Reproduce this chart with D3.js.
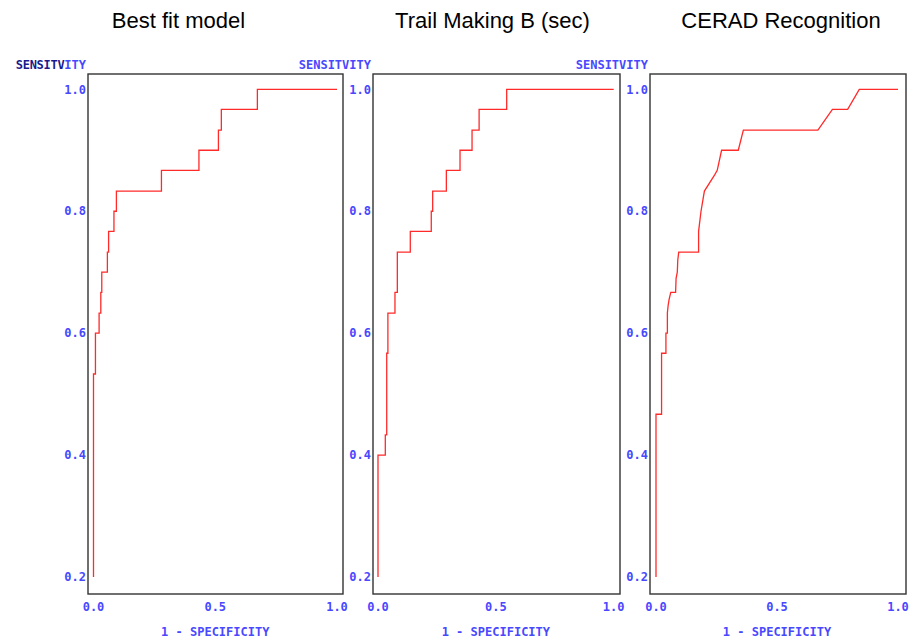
<!DOCTYPE html>
<html>
<head>
<meta charset="utf-8">
<script src="https://cdn.jsdelivr.net/npm/d3@7"></script>
<style>
  html, body { margin: 0; padding: 0; background: #fff; }
  svg { display: block; }
</style>
</head>
<body>
<svg id="chart" width="911" height="644"></svg>
<script>
// ---- data ----
const titles = ["Best fit model", "Trail Making B (sec)", "CERAD Recognition"];
const xTicks = [0, 0.5, 1.0];
const yTicks = [0.2, 0.4, 0.6, 0.8, 1.0];
const yLabel = "SENSITVITY";
const xLabel = "1 - SPECIFICITY";

// ROC curve vertices (1 - specificity, sensitivity)
const fprBest = [0, 0, 0.008, 0.008, 0.023, 0.023, 0.030, 0.030, 0.034, 0.034, 0.057, 0.057, 0.062, 0.062, 0.084, 0.084, 0.094, 0.094, 0.279, 0.279, 0.433, 0.433, 0.513, 0.513, 0.525, 0.525, 0.673, 0.673, 1.0];
const tprBest = [0.2, 0.533, 0.533, 0.6, 0.6, 0.633, 0.633, 0.667, 0.667, 0.7, 0.7, 0.733, 0.733, 0.767, 0.767, 0.8, 0.8, 0.833, 0.833, 0.867, 0.867, 0.9, 0.9, 0.933, 0.933, 0.967, 0.967, 1.0, 1.0];

const fprTrail = [0, 0, 0.031, 0.031, 0.037, 0.037, 0.042, 0.042, 0.072, 0.072, 0.082, 0.082, 0.137, 0.137, 0.226, 0.226, 0.232, 0.232, 0.290, 0.290, 0.348, 0.348, 0.399, 0.399, 0.429, 0.429, 0.546, 0.546, 1.0];
const tprTrail = [0.2, 0.4, 0.4, 0.433, 0.433, 0.567, 0.567, 0.633, 0.633, 0.667, 0.667, 0.733, 0.733, 0.767, 0.767, 0.8, 0.8, 0.833, 0.833, 0.867, 0.867, 0.9, 0.9, 0.933, 0.933, 0.967, 0.967, 1.0, 1.0];

const fprCerad = [0, 0, 0.023, 0.023, 0.041, 0.041, 0.047, 0.047, 0.050, 0.054, 0.061, 0.081, 0.083, 0.088, 0.090, 0.094, 0.176, 0.176, 0.186, 0.200, 0.243, 0.253, 0.271, 0.340, 0.361, 0.669, 0.729, 0.792, 0.840, 1.0];
const tprCerad = [0.2, 0.467, 0.467, 0.567, 0.567, 0.6, 0.6, 0.633, 0.645, 0.655, 0.667, 0.667, 0.69, 0.7, 0.72, 0.733, 0.733, 0.767, 0.8, 0.833, 0.86, 0.867, 0.9, 0.9, 0.933, 0.933, 0.967, 0.967, 1.0, 1.0];

const series = [[fprBest, tprBest], [fprTrail, tprTrail], [fprCerad, tprCerad]];

// ---- layout ----
const frames = [
  { left: 88,  right: 343, x0: 93.5, x1: 337 },
  { left: 373, right: 620, x0: 378,  x1: 613.7 },
  { left: 650, right: 906, x0: 656,  x1: 898 }
];
const frameTop = 74, frameBottom = 594;
const yScale = d3.scaleLinear().domain([0.2, 1.0]).range([577, 89.3]);

const blue = "#4848ff";
const mono = "'DejaVu Sans Mono', 'Liberation Mono', monospace";
const svg = d3.select("#chart");
const fmt = d3.format(".1f");

frames.forEach((f, i) => {
  const xScale = d3.scaleLinear().domain([0, 1]).range([f.x0, f.x1]);
  const g = svg.append("g");

  // title
  g.append("text")
    .attr("x", (f.left + f.right) / 2 + (i === 0 ? -37 : (i === 1 ? -4 : 3)))
    .attr("y", 27.5)
    .attr("text-anchor", "middle")
    .attr("font-family", "'Liberation Sans', Arial, sans-serif")
    .attr("font-size", 22)
    .attr("fill", "#000")
    .text(titles[i]);

  // frame
  g.append("rect")
    .attr("x", f.left).attr("y", frameTop)
    .attr("width", f.right - f.left).attr("height", frameBottom - frameTop)
    .attr("fill", "none").attr("stroke", "#333").attr("stroke-width", 1.4);

  // y tick labels
  g.selectAll(".yt").data(yTicks).enter().append("text")
    .attr("x", f.left - 2)
    .attr("y", d => yScale(d))
    .attr("dy", "0.35em")
    .attr("text-anchor", "end")
    .attr("font-family", mono).attr("font-size", 12).attr("font-weight", 600)
    .attr("fill", blue)
    .text(d => fmt(d));

  // x tick labels
  g.selectAll(".xt").data(xTicks).enter().append("text")
    .attr("x", d => xScale(d))
    .attr("y", 611)
    .attr("text-anchor", "middle")
    .attr("font-family", mono).attr("font-size", 12).attr("font-weight", 600)
    .attr("fill", blue)
    .text(d => fmt(d));

  // x label
  g.append("text")
    .attr("x", xScale(0.5))
    .attr("y", 636)
    .attr("text-anchor", "middle")
    .attr("font-family", mono).attr("font-size", 12).attr("font-weight", 600)
    .attr("fill", blue)
    .text(xLabel);

  // y label (first panel shows an overprinted, darker start)
  const yl = g.append("text")
    .attr("x", f.left - 2)
    .attr("y", 69)
    .attr("text-anchor", "end")
    .attr("font-family", mono).attr("font-size", 12).attr("font-weight", 600)
    .attr("fill", blue);
  if (i === 0) {
    yl.append("tspan").attr("fill", "#1a1a8c").attr("font-weight", "bold")
      .attr("letter-spacing", -0.3).text(yLabel.slice(0, 7));
    yl.append("tspan").text(yLabel.slice(7));
  } else {
    yl.text(yLabel);
  }

  // curve
  const [xs, ys] = series[i];
  const pts = xs.map((x, k) => [x, ys[k]]);
  const line = d3.line().x(d => xScale(d[0])).y(d => yScale(d[1]));
  g.append("path")
    .attr("d", line(pts))
    .attr("fill", "none")
    .attr("stroke", "#ff2a2a")
    .attr("stroke-width", 1.3);
});
</script>
</body>
</html>
